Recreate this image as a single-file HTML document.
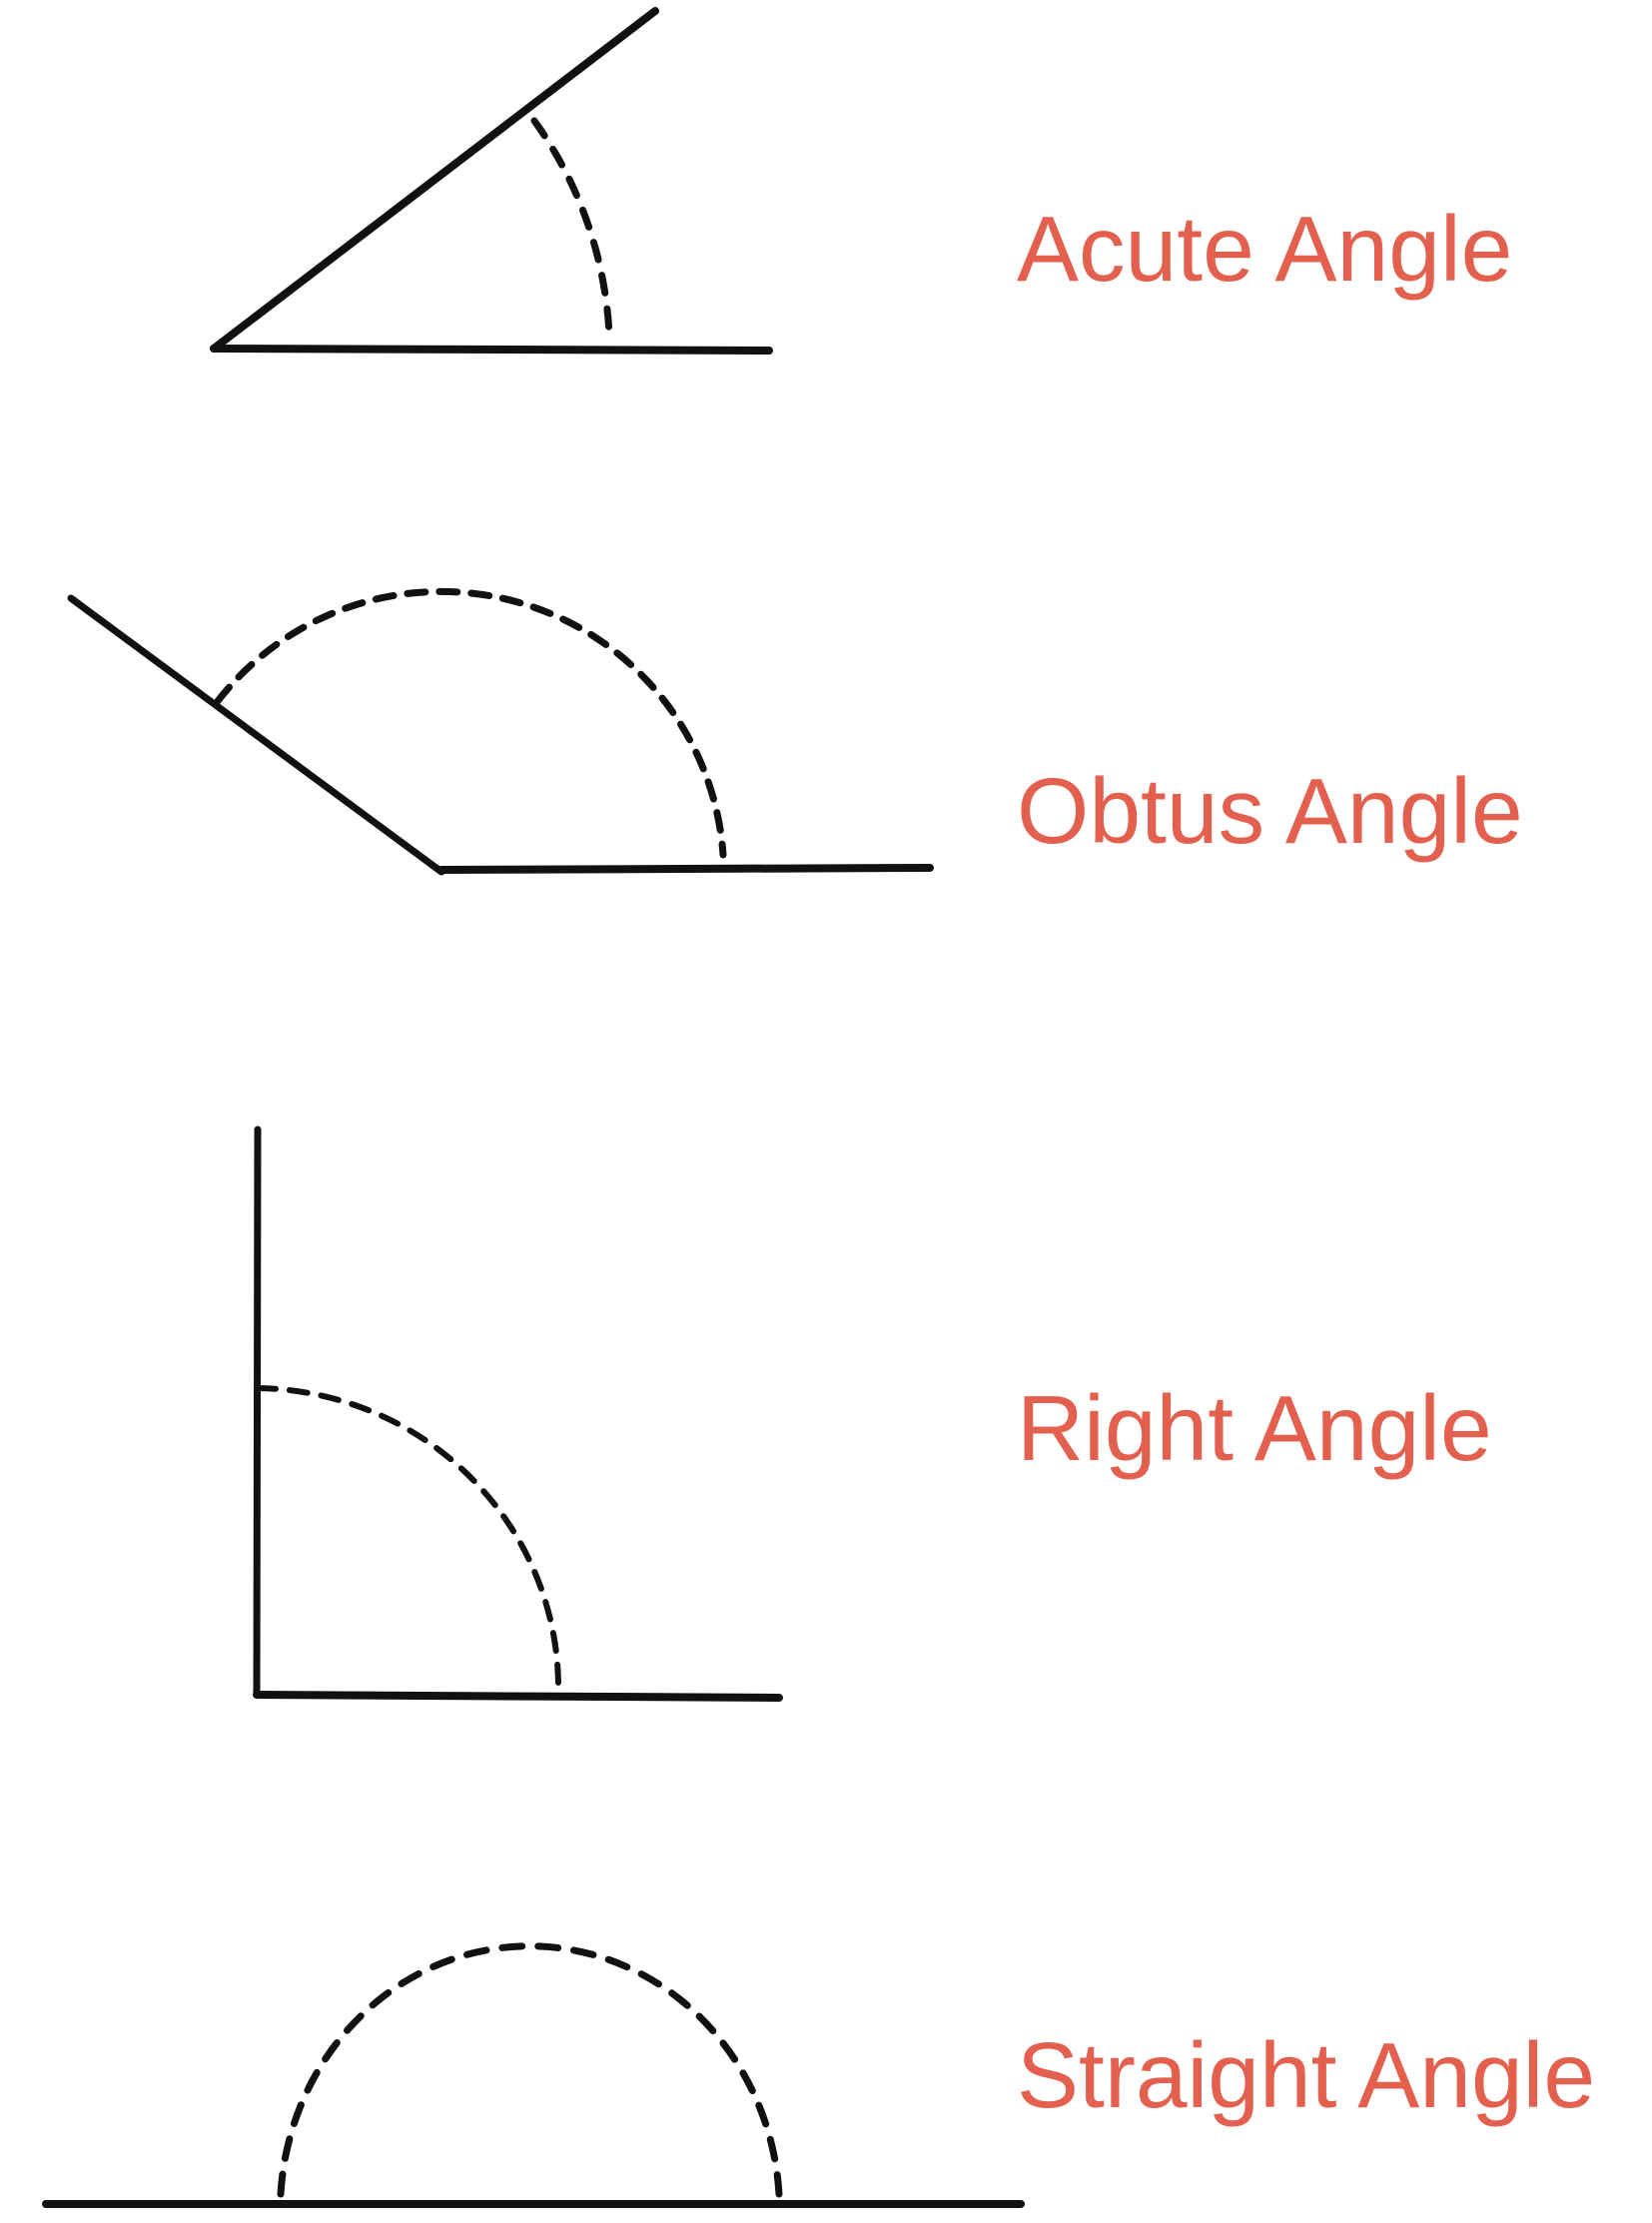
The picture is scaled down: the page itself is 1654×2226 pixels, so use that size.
<!DOCTYPE html>
<html><head><meta charset="utf-8"><style>
html,body{margin:0;padding:0;background:#fff;}
svg{display:block;}
text{font-family:"Liberation Sans",sans-serif;fill:#e35f4e;font-size:93px;}
</style></head><body>
<svg width="1654" height="2226" viewBox="0 0 1654 2226" xmlns="http://www.w3.org/2000/svg">
<g stroke="#111" fill="none" stroke-linecap="round">
<!-- Acute -->
<line x1="214" y1="349" x2="656" y2="11" stroke-width="8"/>
<line x1="214" y1="349" x2="770" y2="351" stroke-width="8"/>
<path d="M535 121 A 400 400 0 0 1 610 335" stroke-width="7" stroke-dasharray="18 16"/>
<!-- Obtuse -->
<line x1="71" y1="599" x2="442" y2="873" stroke-width="7"/>
<line x1="442" y1="871" x2="931" y2="869" stroke-width="8"/>
<path d="M218 702 A 283 283 0 0 1 724 856" stroke-width="7" stroke-dasharray="18 14"/>
<!-- Right -->
<line x1="258" y1="1131" x2="257" y2="1697" stroke-width="7"/>
<line x1="257" y1="1697" x2="780" y2="1700" stroke-width="8"/>
<path d="M258 1390 A 305 300 0 0 1 559 1690" stroke-width="6" stroke-dasharray="18 14"/>
<!-- Straight -->
<line x1="46" y1="2207" x2="1022" y2="2207" stroke-width="8"/>
<path d="M281 2197 A 250 265 0 0 1 780 2197" stroke-width="7" stroke-dasharray="20 16"/>
</g>
<text x="1018" y="281">Acute Angle</text>
<text x="1018" y="844">Obtus Angle</text>
<text x="1018" y="1462">Right Angle</text>
<text x="1018" y="2110">Straight Angle</text>
</svg>
</body></html>
